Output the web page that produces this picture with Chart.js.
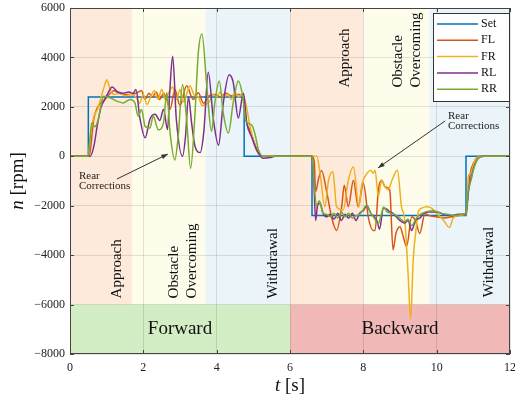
<!DOCTYPE html>
<html>
<head>
<meta charset="utf-8">
<script src="https://cdn.jsdelivr.net/npm/chart.js@4/dist/chart.umd.min.js"></script>
<style>
body { margin: 0; background: #fff; }
#wrap { width: 515px; height: 404px; }
</style>
</head>
<body>
<div id="wrap"><canvas id="speedChart" width="515" height="404"></canvas></div>
<script>
// wheel speeds n [rpm] over time t [s]
var setT = [0, 0.5, 0.5, 4.75, 4.75, 6.6, 6.6, 10.8, 10.8, 12];
var setN = [0, 0, 2400, 2400, 0, 0, -2400, -2400, 0, 0];

var flT = [0, 0.5, 0.55, 0.65, 0.8, 0.95, 1.1, 1.2, 1.35, 1.5, 1.65, 1.8, 1.95, 2.05, 2.15, 2.25, 2.35, 2.45, 2.55, 2.65, 2.73, 2.86, 3.0, 3.18, 3.36, 3.5, 3.64, 3.8, 3.95, 4.1, 4.25, 4.4, 4.59, 4.73, 4.82, 4.9, 5.05, 5.14, 5.27,
  6.6, 6.66, 6.7, 6.78, 6.86, 7.0, 7.14, 7.27, 7.41, 7.48, 7.59, 7.73, 7.86, 8.0, 8.14, 8.27, 8.32, 8.41, 8.5, 8.59, 8.72, 8.81, 8.89, 9.0, 9.08, 9.18, 9.32, 9.42, 9.54, 9.68, 9.8, 10.0, 10.2, 10.4, 10.6, 10.75, 10.82, 10.86, 10.9, 11.05, 11.2, 12];
var flN = [0, 0, 200, 1500, 2100, 2300, 2550, 2650, 2550, 2500, 2500, 2550, 2650, 2300, 2550, 2400, 2600, 2300, 2550, 2250, 1900, 2700, 2050, 2850, 2300, 2570, 2150, 2450, 2500, 2400, 2550, 2450, 2500, 2300, 1350, 1080, 460, 120, 0,
  0, -200, -1430, -900, -580, -1430, -2500, -3000, -2040, -1170, -2040, -970, -2040, -1090, -2500, -3000, -3000, -1360, -970, -1230, -1360, -3790, -3120, -2850, -3200, -3650, -2450, -2600, -3120, -2310, -2400, -2450, -2500, -2450, -2400, -2350, -2200, -1430, -830, -150, 0, 0];

var frT = [0, 0.5, 0.55, 0.65, 0.75, 0.85, 0.95, 1.0, 1.1, 1.2, 1.35, 1.5, 1.65, 1.8, 1.9, 2.0, 2.1, 2.2, 2.3, 2.4, 2.5, 2.6, 2.7, 2.8, 2.9, 3.0, 3.1, 3.2, 3.27, 3.4, 3.5, 3.6, 3.7, 3.8, 3.9, 4.0, 4.1, 4.2, 4.3, 4.4, 4.5, 4.6, 4.7, 4.8, 4.9, 5.0, 5.1, 5.2, 5.3,
  6.6, 6.73, 6.82, 6.95, 7.05, 7.17, 7.27, 7.45, 7.59, 7.73, 7.88, 7.95, 8.1, 8.2, 8.27, 8.32, 8.41, 8.5, 8.59, 8.68, 8.78, 8.93, 9.04, 9.13, 9.22, 9.29, 9.36, 9.45, 9.5, 9.59, 9.72, 9.86, 10.0, 10.18, 10.35, 10.45, 10.64, 10.82, 10.86, 10.92, 11.05, 11.2, 12];
var frN = [0, 0, 800, 1600, 1900, 2400, 2900, 3100, 2700, 2500, 2550, 2450, 2500, 2400, 2150, 2500, 2100, 2400, 2650, 2300, 2700, 2300, 2600, 2800, 2300, 2700, 2200, 2600, 2840, 2450, 2400, 2050, 2100, 2200, 2500, 2400, 2600, 2400, 2500, 2300, 2600, 2400, 2500, 2100, 1300, 650, 200, 30, 0,
  0, 0, -690, -2040, -970, -630, -2040, -2170, -970, -420, -2040, -1230, -690, -560, -690, -560, -1630, -970, -1230, -1360, -970, -560, -2040, -2580, -4740, -6600, -4200, -2800, -2240, -2100, -2040, -2100, -2310, -2580, -2880, -2500, -2380, -2350, -830, -690, -150, 0, 0];

var rlT = [0, 0.55, 0.65, 0.75, 0.85, 0.95, 1.05, 1.15, 1.3, 1.45, 1.6, 1.72, 1.8, 1.9, 2.05, 2.18, 2.32, 2.45, 2.55, 2.66, 2.72, 2.8, 2.9, 3.07, 3.15, 3.23, 3.32, 3.41, 3.55, 3.65, 3.77, 3.91, 4.05, 4.18, 4.34, 4.45, 4.59, 4.73, 4.82, 4.95, 5.09, 5.27, 5.45, 5.6,
  6.6, 6.65, 6.7, 6.75, 6.82, 6.9, 7.0, 7.1, 7.2, 7.3, 7.4, 7.5, 7.6, 7.7, 7.8, 7.9, 8.0, 8.1, 8.2, 8.3, 8.38, 8.44, 8.55, 8.65, 8.72, 8.8, 8.9, 9.0, 9.13, 9.22, 9.32, 9.42, 9.54, 9.65, 9.8, 10.0, 10.2, 10.4, 10.6, 10.8, 10.86, 10.95, 11.05, 11.15, 11.3, 12];
var rlN = [0, 0, 400, 1300, 2000, 2300, 2600, 2800, 2600, 2550, 2600, 2550, 2700, 1600, 750, 1500, 1700, 1450, 1900, 1080, 2600, 4050, 1500, 0, 800, 2400, 1300, 400, 150, 1000, 3400, 1500, 450, 2150, 3300, 3000, 1550, 2550, 1350, 800, 260, -80, -50, 0,
  0, -1000, -2600, -2000, -1900, -2300, -2450, -2350, -2550, -2300, -2600, -2350, -2500, -2300, -2600, -2300, -2200, -2000, -2300, -2450, -2650, -2950, -2100, -2150, -2250, -2300, -2450, -2600, -2700, -2600, -3000, -2600, -2500, -2300, -2250, -2250, -2350, -2400, -2350, -2350, -1500, -800, -300, -50, 0, 0];

var rrT = [0, 0.5, 0.59, 0.68, 0.77, 0.85, 0.91, 1.09, 1.27, 1.45, 1.64, 1.77, 1.86, 1.95, 2.05, 2.18, 2.27, 2.41, 2.55, 2.64, 2.73, 2.86, 2.95, 3.07, 3.18, 3.29, 3.4, 3.5, 3.6, 3.73, 3.86, 3.95, 4.07, 4.18, 4.32, 4.45, 4.59, 4.71, 4.8, 4.95, 5.05, 5.14, 5.27,
  6.6, 6.65, 6.72, 6.8, 6.9, 7.0, 7.1, 7.2, 7.3, 7.4, 7.5, 7.6, 7.7, 7.8, 7.9, 8.0, 8.09, 8.2, 8.3, 8.4, 8.5, 8.55, 8.65, 8.75, 8.85, 9.0, 9.13, 9.22, 9.32, 9.45, 9.55, 9.7, 9.9, 10.1, 10.3, 10.5, 10.7, 10.8, 10.86, 10.95, 11.0, 11.14, 11.3, 12];
var rrN = [0, 0, 1350, 1200, 1500, 2100, 2430, 2370, 2230, 2160, 2300, 2160, 1620, 1890, 1210, 1140, 1620, 1070, 1350, 2570, 940, -150, 800, 2900, 1500, -490, 1500, 4200, 4950, 2840, 1010, 2160, 3050, 1750, 940, 2160, 3050, 2430, 1410, 1280, 870, 260, 0,
  0, -900, -2000, -1800, -2300, -2350, -2450, -2300, -2500, -2250, -2450, -2300, -2500, -2400, -2350, -2150, -1970, -2300, -2500, -2750, -2300, -2050, -2250, -2300, -2350, -2500, -2650, -2550, -2800, -2500, -2350, -2250, -2200, -2300, -2350, -2400, -2350, -2300, -1400, -900, -560, -80, 0, 0];

var xTicks = [0, 2, 4, 6, 8, 10, 12];
var yTicks = [-8000, -6000, -4000, -2000, 0, 2000, 4000, 6000];

// phases and directions
var phaseStart = [0, 1.7, 3.7, 6.0, 8.0, 9.8];
var phaseEnd = [1.7, 3.7, 6.0, 8.0, 9.8, 12];
var phaseColor = ['#fdeadb', '#fefdec', '#eaf4f9', '#fdeadb', '#fefdec', '#eaf4f9'];
var phaseText = [['Approach'], ['Obstacle', 'Overcoming'], ['Withdrawal'], ['Approach'], ['Obstacle', 'Overcoming'], ['Withdrawal']];
var phaseTextT = [1.28, 3.07, 5.54, 7.5, 9.18, 11.43];
var phaseTextN = [-5750, -5750, -5750, 2780, 2780, -5700];

var dirName = ['Forward', 'Backward'];
var dirStart = [0, 6];
var dirEnd = [6, 12];
var dirColor = ['#d3edc4', '#f1b8b8'];

function pts(t, n) {
  return t.map(function (v, i) { return { x: v, y: n[i] }; });
}

function minus(v) {
  return v < 0 ? '\u2212' + Math.abs(v) : String(v);
}

var serif = '"Liberation Serif", "DejaVu Serif", serif';

var backdrop = {
  id: 'backdrop',
  beforeDraw: function (chart) {
    var c = chart.ctx, x = chart.scales.x, y = chart.scales.y;
    c.save();
    var top = y.getPixelForValue(6000), mid = y.getPixelForValue(-6000), bot = y.getPixelForValue(-8000);
    for (var i = 0; i < phaseStart.length; i++) {
      var x0 = x.getPixelForValue(phaseStart[i]), x1 = x.getPixelForValue(phaseEnd[i]);
      c.fillStyle = phaseColor[i];
      c.fillRect(x0, top, x1 - x0, mid - top);
    }
    for (var j = 0; j < dirName.length; j++) {
      var a0 = x.getPixelForValue(dirStart[j]), a1 = x.getPixelForValue(dirEnd[j]);
      c.fillStyle = dirColor[j];
      c.fillRect(a0, mid, a1 - a0, bot - mid);
    }
    c.restore();
  },
  beforeDatasetsDraw: function (chart) {
    var c = chart.ctx, x = chart.scales.x, y = chart.scales.y;
    c.save();
    c.fillStyle = '#111';
    c.font = '15px ' + serif;
    c.textAlign = 'left';
    c.textBaseline = 'middle';
    for (var i = 0; i < phaseText.length; i++) {
      var lines = phaseText[i];
      c.save();
      c.translate(x.getPixelForValue(phaseTextT[i]), y.getPixelForValue(phaseTextN[i]));
      c.rotate(-Math.PI / 2);
      for (var k = 0; k < lines.length; k++) {
        c.fillText(lines[k], 0, (k - (lines.length - 1) / 2) * 18);
      }
      c.restore();
    }
    c.font = '19px ' + serif;
    c.textAlign = 'center';
    for (var j = 0; j < dirName.length; j++) {
      c.fillText(dirName[j], x.getPixelForValue((dirStart[j] + dirEnd[j]) / 2), y.getPixelForValue(-7000));
    }
    c.restore();
  },
  afterDraw: function (chart) {
    var c = chart.ctx, a = chart.chartArea, x = chart.scales.x, y = chart.scales.y;
    c.save();
    // box and inward ticks
    c.strokeStyle = '#444';
    c.lineWidth = 1;
    c.strokeRect(a.left + 0.5, a.top + 0.5, a.right - a.left - 1, a.bottom - a.top - 1);
    c.beginPath();
    xTicks.forEach(function (v) {
      var px = Math.round(x.getPixelForValue(v)) + 0.5;
      c.moveTo(px, a.bottom); c.lineTo(px, a.bottom - 4);
      c.moveTo(px, a.top); c.lineTo(px, a.top + 4);
    });
    yTicks.forEach(function (v) {
      var py = Math.round(y.getPixelForValue(v)) + 0.5;
      c.moveTo(a.left, py); c.lineTo(a.left + 4, py);
      c.moveTo(a.right, py); c.lineTo(a.right - 4, py);
    });
    c.stroke();

    // annotations
    c.fillStyle = '#222';
    c.font = '11px ' + serif;
    c.textAlign = 'left';
    c.textBaseline = 'middle';
    function note(tt, tn, at, an, ht, hn) {
      var px = x.getPixelForValue(tt), py = y.getPixelForValue(tn);
      c.fillText('Rear', px, py);
      c.fillText('Corrections', px, py + 10);
      var x0 = x.getPixelForValue(at), y0 = y.getPixelForValue(an);
      var x1 = x.getPixelForValue(ht), y1 = y.getPixelForValue(hn);
      c.strokeStyle = '#333';
      c.beginPath(); c.moveTo(x0, y0); c.lineTo(x1, y1); c.stroke();
      var ang = Math.atan2(y1 - y0, x1 - x0);
      c.beginPath();
      c.moveTo(x1, y1);
      c.lineTo(x1 - 7 * Math.cos(ang - 0.35), y1 - 7 * Math.sin(ang - 0.35));
      c.lineTo(x1 - 7 * Math.cos(ang + 0.35), y1 - 7 * Math.sin(ang + 0.35));
      c.closePath();
      c.fillStyle = '#333';
      c.fill();
      c.fillStyle = '#222';
    }
    note(0.245, -800, 1.28, -920, 2.67, 90);
    note(10.31, 1630, 10.23, 1430, 8.4, -470);

    // legend
    var lx = a.right - 77, ly = 13, lw = 76, lh = 88;
    c.fillStyle = '#fff';
    c.fillRect(lx, ly, lw, lh);
    c.strokeStyle = '#333';
    c.strokeRect(lx + 0.5, ly + 0.5, lw, lh);
    c.font = '12px ' + serif;
    chart.data.datasets.forEach(function (ds, i) {
      var ry = ly + 11 + i * 16.3;
      c.strokeStyle = ds.borderColor;
      c.lineWidth = 1.5;
      c.beginPath(); c.moveTo(lx + 4, ry); c.lineTo(lx + 45, ry); c.stroke();
      c.fillStyle = '#111';
      c.fillText(ds.label, lx + 48, ry);
    });

    // axis titles
    c.fillStyle = '#111';
    c.font = 'italic 19px ' + serif;
    var w1 = c.measureText('t').width;
    c.font = '19px ' + serif;
    var w2 = c.measureText(' [s]').width;
    var cx = (a.left + a.right) / 2 - (w1 + w2) / 2;
    c.font = 'italic 19px ' + serif;
    c.fillText('t', cx, 386);
    c.font = '19px ' + serif;
    c.fillText(' [s]', cx + w1, 386);

    c.save();
    c.translate(18, (a.top + a.bottom) / 2);
    c.rotate(-Math.PI / 2);
    c.font = 'italic 19px ' + serif;
    var v1 = c.measureText('n').width;
    c.font = '19px ' + serif;
    var v2 = c.measureText(' [rpm]').width;
    c.font = 'italic 19px ' + serif;
    c.fillText('n', -(v1 + v2) / 2, 0);
    c.font = '19px ' + serif;
    c.fillText(' [rpm]', -(v1 + v2) / 2 + v1, 0);
    c.restore();
    c.restore();
  }
};

var ctx = document.getElementById('speedChart').getContext('2d');
var speedChart = new Chart(ctx, {
  type: 'line',
  data: {
    datasets: [
      { label: 'Set', data: pts(setT, setN), borderColor: '#0072BD', order: 5, tension: 0 },
      { label: 'FL', data: pts(flT, flN), borderColor: '#D95319', order: 4, cubicInterpolationMode: 'monotone' },
      { label: 'FR', data: pts(frT, frN), borderColor: '#EDB120', order: 3, cubicInterpolationMode: 'monotone' },
      { label: 'RL', data: pts(rlT, rlN), borderColor: '#7E2F8E', order: 2, cubicInterpolationMode: 'monotone' },
      { label: 'RR', data: pts(rrT, rrN), borderColor: '#77AC30', order: 1, cubicInterpolationMode: 'monotone' }
    ]
  },
  options: {
    responsive: false,
    animation: false,
    parsing: false,
    elements: { point: { radius: 0 }, line: { borderWidth: 1.5, fill: false } },
    layout: { padding: { top: 8, right: 5, left: 0, bottom: 0 } },
    plugins: { legend: { display: false }, tooltip: { enabled: false } },
    scales: {
      x: {
        type: 'linear', min: 0, max: 12,
        afterBuildTicks: function (s) { s.ticks = xTicks.map(function (v) { return { value: v }; }); },
        afterFit: function (s) { s.height = 50; s.paddingLeft = 0; s.paddingRight = 0; },
        grid: { color: 'rgba(40,40,40,0.13)', drawTicks: false },
        border: { display: false },
        ticks: { padding: 7, color: '#222', font: { family: serif, size: 12 } }
      },
      y: {
        min: -8000, max: 6000,
        afterBuildTicks: function (s) { s.ticks = yTicks.map(function (v) { return { value: v }; }); },
        afterFit: function (s) { s.width = 70; s.paddingTop = 0; s.paddingBottom = 0; },
        grid: { color: 'rgba(40,40,40,0.13)', drawTicks: false },
        border: { display: false },
        ticks: { padding: 5, color: '#222', font: { family: serif, size: 12 }, callback: function (v) { return minus(v); } }
      }
    }
  },
  plugins: [backdrop]
});
</script>
</body>
</html>
